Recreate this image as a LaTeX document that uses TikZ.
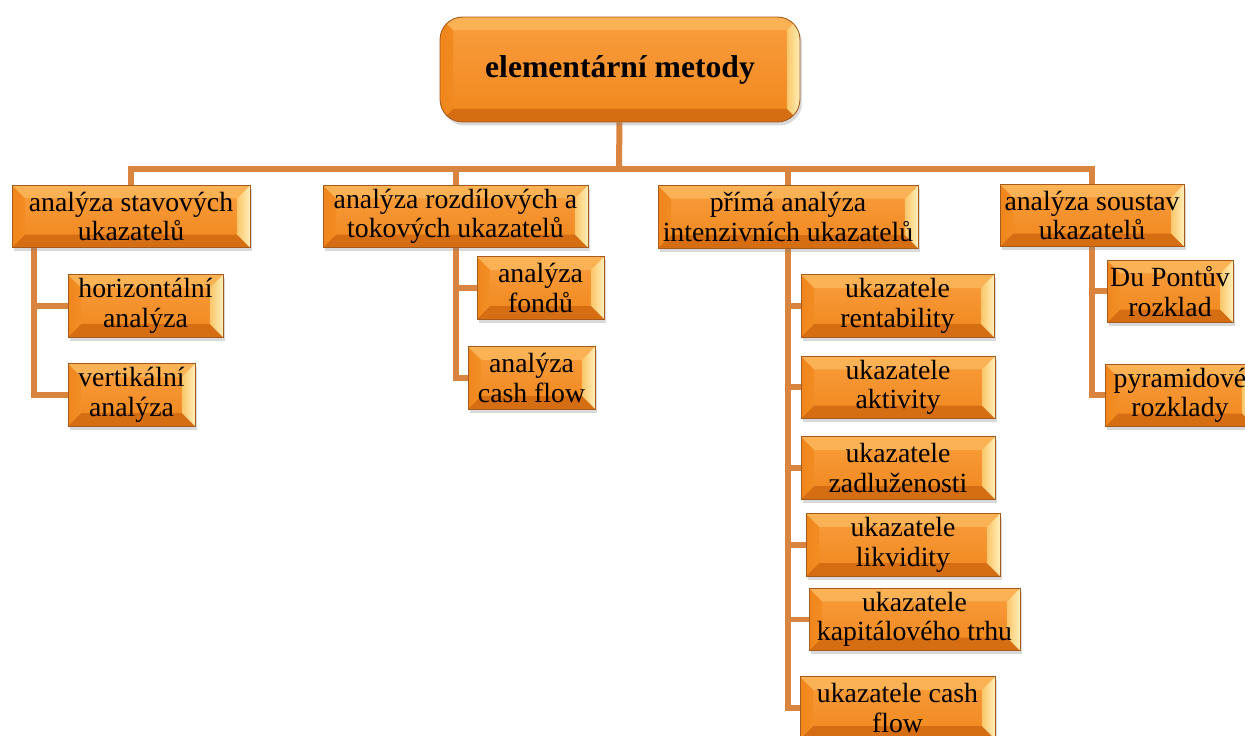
\documentclass[tikz,border=0pt]{standalone}
\usepackage{fontspec}
\setmainfont{Liberation Serif}
\usetikzlibrary{shadows,backgrounds}

\definecolor{oranz}{HTML}{F0861C}
\definecolor{oranzsv}{HTML}{F99E3E}
\definecolor{oranztm}{HTML}{D56D12}
\definecolor{okraj}{HTML}{A65A1C}
\definecolor{zluta}{HTML}{FFE28A}
\definecolor{spojka}{HTML}{D9853F}

\begin{document}
\begin{tikzpicture}[x=0.02cm, y=-0.02cm,
  caja/.style={draw=okraj, line width=0.5pt, top color=oranzsv, bottom color=oranz,
    drop shadow={opacity=0.3, shadow xshift=0.04cm, shadow yshift=-0.07cm},
    align=center, inner sep=0pt, minimum height=1.25cm,
    font=\fontsize{15.8}{16.8}\selectfont,
    path picture={
      % zkosene hrany
      \shade[sharp corners, left color=oranz, right color=zluta]
        (path picture bounding box.north west) -- ++(0.26cm,-0.26cm)
        -- ([shift={(0.26cm,0.26cm)}]path picture bounding box.south west)
        -- (path picture bounding box.south west) -- cycle;
      \shade[sharp corners, left color=zluta!70!oranz, right color=zluta!60]
        (path picture bounding box.north east) -- ++(-0.26cm,-0.26cm)
        -- ([shift={(-0.26cm,0.26cm)}]path picture bounding box.south east)
        -- (path picture bounding box.south east) -- cycle;
      \fill[sharp corners, oranztm]
        (path picture bounding box.south west) -- ++(0.26cm,0.26cm)
        -- ([shift={(-0.26cm,0.26cm)}]path picture bounding box.south east)
        -- (path picture bounding box.south east) -- cycle;
      \fill[sharp corners, oranzsv!70!zluta]
        (path picture bounding box.north west) -- ++(0.26cm,-0.26cm)
        -- ([shift={(-0.26cm,-0.26cm)}]path picture bounding box.north east)
        -- (path picture bounding box.north east) -- cycle;
    }},
  koren/.style={caja, rounded corners=0.45cm, minimum width=7.2cm, minimum height=2.1cm,
    font=\fontsize{18}{20}\selectfont\bfseries},
  spoj/.style={draw=spojka, line width=0.12cm}
]
\useasboundingbox (0,0) rectangle (1245,736);

% koren
\node[koren] (koren) at (620,69.5) {elementární metody};

% prvni uroven
\node[caja, minimum width=4.76cm] (stav) at (131,216.5) {analýza stavových\\ukazatelů};
\node[caja, minimum width=5.3cm] (rozd) at (455.5,216.5) {analýza rozdílových a\\tokových ukazatelů};
\node[caja, minimum width=5.2cm] (prima) at (788,217) {přímá analýza\\intenzivních ukazatelů};
\node[caja, minimum width=3.68cm] (soust) at (1092,215.5) {analýza soustav\\ukazatelů};

% stavove ukazatele
\node[caja, minimum width=3.1cm] (horiz) at (145.5,306) {horizontální\\analýza};
\node[caja, minimum width=2.54cm] (vert) at (131.5,395) {vertikální\\analýza};

% rozdilove a tokove
\node[caja, minimum width=2.54cm] (fond) at (540.5,288) {analýza\\fondů};
\node[caja, minimum width=2.54cm] (cfa) at (531.5,378) {analýza\\cash flow};

% intenzivni ukazatele
\node[caja, minimum width=3.86cm] (rent) at (897.5,306) {ukazatele\\rentability};
\node[caja, minimum width=3.88cm] (aktiv) at (898,387.5) {ukazatele\\aktivity};
\node[caja, minimum width=3.88cm] (zadl) at (898,468) {ukazatele\\zadluženosti};
\node[caja, minimum width=3.88cm] (likv) at (903,545) {ukazatele\\likvidity};
\node[caja, minimum width=4.22cm] (kapit) at (914.5,619.5) {ukazatele\\kapitálového trhu};
\node[caja, minimum width=3.9cm] (ukcf) at (897.5,708) {ukazatele cash\\flow};

% soustavy ukazatelu
\node[caja, minimum width=2.52cm] (dupont) at (1170,291.5) {Du Pontův\\rozklad};
\node[caja, minimum width=3.0cm] (pyr) at (1180,395.5) {pyramidové\\rozklady};

% spojnice
\begin{scope}[on background layer]
  \coordinate (sbeh) at (619,169);
  \draw[spoj] (koren) -- (sbeh);
  \foreach \n in {stav,rozd,prima,soust} \draw[spoj] (sbeh) -| (\n.north);
  \coordinate (stavdol) at ([xshift=0.44cm]stav.south west);
  \foreach \n in {horiz,vert} \draw[spoj] (stavdol) |- (\n.west);
  \foreach \n in {fond,cfa} \draw[spoj] (rozd.south) |- (\n.west);
  \foreach \n in {rent,aktiv,zadl,likv,kapit,ukcf} \draw[spoj] (prima.south) |- (\n.west);
  \foreach \n in {dupont,pyr} \draw[spoj] (soust.south) |- (\n.west);
\end{scope}

\end{tikzpicture}
\end{document}
